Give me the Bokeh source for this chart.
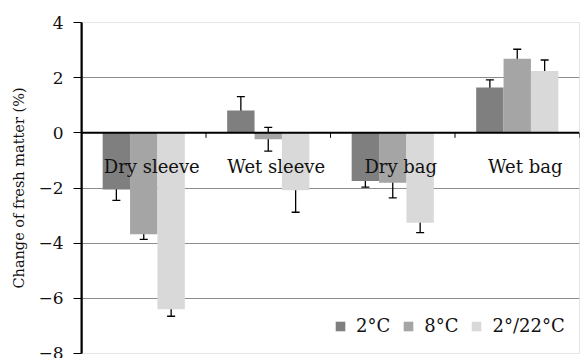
import numpy as np
from bokeh.plotting import figure
from bokeh.models import (ColumnDataSource, Whisker, TeeHead, FixedTicker,
                          Legend, LegendItem, Range1d, Span)
from bokeh.core.properties import value
from bokeh.embed import file_html
from bokeh.resources import INLINE

categories = ["Dry sleeve", "Wet sleeve", "Dry bag", "Wet bag"]
series = ["2°C", "8°C", "2°/22°C"]
vals_2c = [-2.05, 0.81, -1.75, 1.64]
vals_8c = [-3.68, -0.23, -1.81, 2.69]
vals_222c = [-6.40, -2.08, -3.26, 2.24]
err_2c = [0.40, 0.50, 0.22, 0.28]
err_8c = [0.18, 0.43, 0.55, 0.34]
err_222c = [0.25, 0.80, 0.36, 0.40]
y_ticks = [-8, -6, -4, -2, 0, 2, 4]
y_label = "Change of fresh matter (%)"

colors = ["#7f7f7f", "#a5a5a5", "#d9d9d9"]
FONT = "DejaVu Serif"

p = figure(width=581, height=358, output_backend="svg", toolbar_location=None,
           x_axis_type=None,
           x_range=Range1d(0, len(categories)), y_range=Range1d(-8, 4),
           min_border_left=81, min_border_right=2, min_border_top=22, min_border_bottom=5)

# y axis (figure's own)
yax = p.yaxis[0]
yax.ticker = FixedTicker(ticks=y_ticks)
yax.major_label_overrides = {t: (("\u2212" + str(abs(t))) if t < 0 else str(t)) for t in y_ticks}
yax.axis_line_color = "black"
yax.axis_line_width = 2
yax.major_tick_line_color = "black"
yax.major_tick_line_width = 1
yax.major_tick_out = 8
yax.major_tick_in = 0
yax.minor_tick_line_color = None
yax.major_label_text_font = FONT
yax.major_label_text_font_size = "17px"
yax.major_label_text_color = "#111111"
yax.major_label_standoff = 10
yax.axis_label = y_label
yax.axis_label_text_font = FONT
yax.axis_label_text_font_style = "normal"
yax.axis_label_text_font_size = "14.5px"
yax.axis_label_text_color = "#111111"
yax.axis_label_standoff = 8

# horizontal gridlines (non-zero)
p.ygrid.ticker = FixedTicker(ticks=[t for t in y_ticks if t != 0])
p.ygrid.grid_line_color = "#8c8c8c"
p.ygrid.grid_line_width = 1

# vertical axis rule reinforcement at the frame's left edge
p.add_layout(Span(location=0, dimension="height", line_color="black", line_width=2))

centers = np.arange(len(categories)) + 0.5
bw = 0.22
offsets = [-bw, 0.0, bw]
all_vals = [vals_2c, vals_8c, vals_222c]
all_errs = [err_2c, err_8c, err_222c]

items = []
for name, vals, errs, off, col in zip(series, all_vals, all_errs, offsets, colors):
    v = np.array(vals)
    e = np.array(errs)
    src = ColumnDataSource(dict(x=centers + off, top=v, upper=v + e, lower=v - e))
    r = p.vbar(x="x", top="top", bottom=0, width=bw, source=src,
               fill_color=col, line_color=None)
    items.append(LegendItem(label=name, renderers=[r]))
    w = Whisker(base="x", upper="upper", lower="lower", source=src,
                line_color="black", line_width=1.3,
                upper_head=TeeHead(size=8, line_color="black", line_width=1.3),
                lower_head=TeeHead(size=8, line_color="black", line_width=1.3))
    p.add_layout(w)

# category axis: zero line plus short ticks at category boundaries
p.add_layout(Span(location=0, dimension="width", line_color="black", line_width=2))
bounds = np.arange(1, len(categories) + 1)
p.segment(x0=bounds, y0=[0] * len(bounds), x1=bounds, y1=[-0.18] * len(bounds),
          line_color="black", line_width=1)

# category labels inside plot just below zero
p.text(x=centers, y=[-1.23] * len(categories), text=categories,
       text_font=value(FONT), text_font_size="18px", text_color="#111111",
       text_align="center", text_baseline="alphabetic", x_offset=8)

legend = Legend(items=items, orientation="horizontal", location=(253, 17),
                glyph_width=12, glyph_height=12, label_standoff=10, spacing=12,
                padding=0, margin=0,
                label_text_font=FONT, label_text_font_size="18px",
                label_text_color="#111111",
                background_fill_alpha=0, border_line_alpha=0)
p.add_layout(legend)

open("out.html", "w").write(file_html(p, INLINE))
